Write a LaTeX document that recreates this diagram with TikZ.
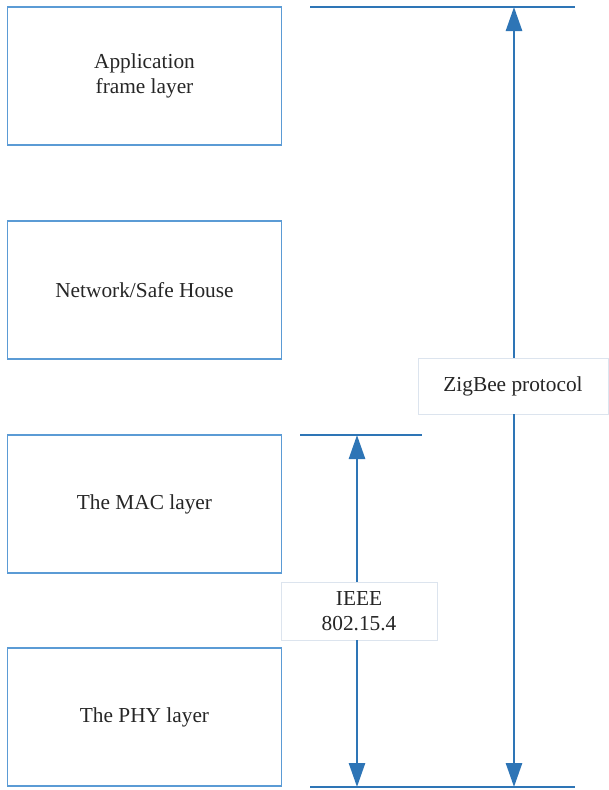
\documentclass[tikz,border=0pt]{standalone}
\usepackage{fontspec}
\setmainfont{Liberation Serif}
\usetikzlibrary{arrows.meta}
\definecolor{boxblue}{HTML}{5B9BD5}
\definecolor{lineblue}{HTML}{2E75B6}
\definecolor{lblgray}{HTML}{DCE4EE}
\begin{document}
\begin{tikzpicture}[x=0.75pt, y=-0.75pt, font=\fontsize{16}{19}\selectfont,
  layer/.style={draw=boxblue, line width=0.8pt, minimum width=205pt, minimum height=103.5pt,
    inner sep=0pt, align=center, text=black!85},
  lbl/.style={draw=lblgray, line width=0.6pt, fill=white, inner sep=0pt, align=center, text=black!85},
  bar/.style={draw=lineblue, line width=2pt},
  arr/.style={draw=lineblue, line width=2pt, -{Triangle[width=12pt, length=18pt]}}]
  \useasboundingbox (0,0) rectangle (608,790);
  % layers, left column
  \node[layer] (app) at (144.5,76) {Application\\frame layer};
  \node[layer] (net) at (144.5,290) {Network/Safe House};
  \node[layer] (mac) at (144.5,504) {The MAC layer};
  \node[layer] (phy) at (144.5,717) {The PHY layer};
  % end bars
  \coordinate (zt1) at (310,7);   \coordinate (zt2) at (575,7);
  \coordinate (zb1) at (310,787); \coordinate (zb2) at (575,787);
  \coordinate (it1) at (300,435); \coordinate (it2) at (422,435);
  \draw[bar] (zt1) -- (zt2);
  \draw[bar] (zb1) -- (zb2);
  \draw[bar] (it1) -- (it2);
  \coordinate (ztop) at (514,7);  \coordinate (zbot) at (514,787);
  \coordinate (itop) at (357,435); \coordinate (ibot) at (357,787);
  % spans
  \node[lbl, minimum width=142.5pt, minimum height=42pt] (zig) at (513,386) {ZigBee protocol};
  \node[lbl, minimum width=117pt, minimum height=43.5pt] (ieee) at (359,611) {IEEE\\802.15.4};
  \draw[arr] (zig.north -| ztop) -- (ztop);
  \draw[arr] (zig.south -| zbot) -- (zbot);
  \draw[arr] (ieee.north -| itop) -- (itop);
  \draw[arr] (ieee.south -| ibot) -- (ibot);
\end{tikzpicture}
\end{document}
